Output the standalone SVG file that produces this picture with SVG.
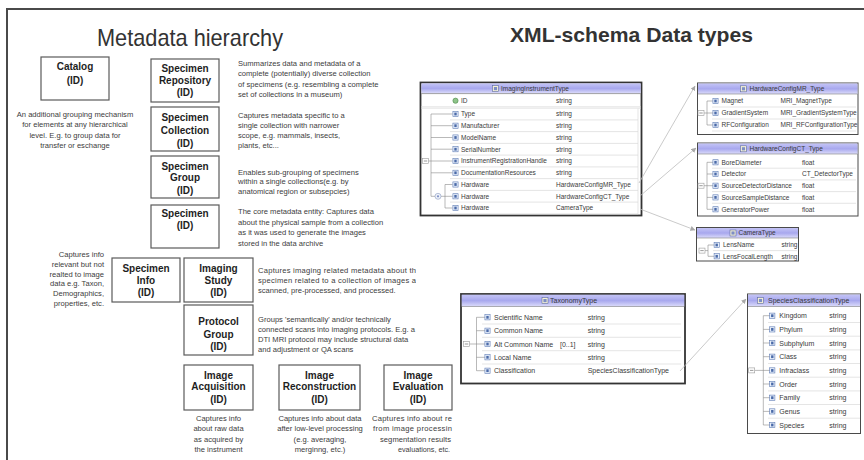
<svg xmlns="http://www.w3.org/2000/svg" xmlns:xlink="http://www.w3.org/1999/xlink" width="864" height="460" viewBox="0 0 864 460">
  <style>
    .frame{fill:none;stroke:#4a4a4a;stroke-width:2}
    .title{font-family:"Liberation Sans",Arial,sans-serif;fill:#333}
    .box{fill:#fff;stroke:#5a5a5a;stroke-width:1.2}
    .lbl{font-family:"Liberation Sans",Arial,sans-serif;font-weight:bold;font-size:10px;fill:#1e1e1e;text-anchor:middle}
    .d{font-family:"Liberation Sans",Arial,sans-serif;font-size:7.6px;fill:#3c3c3c}
    .dc{text-anchor:middle}
    .de{text-anchor:end}
    .tbl{fill:#fff;stroke:#4a4a4a;stroke-width:1}
    .tblb{fill:#fff;stroke:#333;stroke-width:1.8}
    .hdr{fill:url(#hd)}
    .s{font-family:"Liberation Sans",Arial,sans-serif;font-size:6.5px;fill:#3a3a3a}
    .s7{font-family:"Liberation Sans",Arial,sans-serif;font-size:7px;fill:#3a3a3a}
    .tr{fill:none;stroke:#8a8a8a;stroke-width:0.6}
    .sep{fill:none;stroke:#dadada;stroke-width:0.7}
    .conn{fill:none;stroke:#bdbdbd;stroke-width:0.8}
  </style>
  <defs>
    <linearGradient id="hd" x1="0" y1="0" x2="0" y2="1">
      <stop offset="0" stop-color="#c4c4f6"/>
      <stop offset="0.5" stop-color="#a8a8ee"/>
      <stop offset="1" stop-color="#dcdcfa"/>
    </linearGradient>
    <!-- element icon -->
    <g id="el">
      <rect x="-2.6" y="-2.6" width="5.2" height="5.2" fill="#e6eefa" stroke="#5f7cb4" stroke-width="0.6"/>
      <rect x="-1.2" y="-1.4" width="2.4" height="2.8" fill="#4a6aa8"/>
    </g>
    <!-- collapse (minus) toggle -->
    <g id="mn">
      <rect x="-3" y="-2.5" width="6" height="5" fill="#fff" stroke="#9a9a9a" stroke-width="0.6"/>
      <path d="M-1.7 0h3.4" stroke="#555" stroke-width="0.6"/>
    </g>
    <!-- complex type icon -->
    <g id="ti">
      <rect x="-3" y="-3" width="6" height="6" fill="#f6f2d6" stroke="#5c6aa0" stroke-width="0.6"/>
      <rect x="-1.6" y="-1.6" width="3.2" height="3.2" fill="#7d8ec4"/>
    </g>
    <marker id="ah" viewBox="0 0 6 6" refX="5.5" refY="3" markerWidth="5" markerHeight="5" orient="auto" markerUnits="userSpaceOnUse">
      <path d="M0 0L6 3L0 6z" fill="#a8a8a8"/>
    </marker>
    <clipPath id="clipA"><rect x="0" y="260" width="416" height="40"/></clipPath>
    <clipPath id="clipB"><rect x="0" y="360" width="453" height="100"/></clipPath>
  </defs>

  <rect width="864" height="460" fill="#fff"/>
  <!-- slide frame -->
  <path class="frame" d="M7 460V9H864"/>

  <text class="title" x="97" y="46" font-size="24" textLength="186" lengthAdjust="spacingAndGlyphs">Metadata hierarchy</text>
  <text class="title" x="510" y="42" font-size="21" font-weight="bold" textLength="243" lengthAdjust="spacingAndGlyphs">XML-schema Data types</text>

  <!-- ===== Metadata hierarchy ===== -->
  <g id="catalog">
    <rect class="box" x="41" y="57" width="68" height="43"/>
    <text class="lbl" x="75" y="70">Catalog</text>
    <text class="lbl" x="75" y="83.5">(ID)</text>
    <text class="d dc" x="75" y="117">An additional grouping mechanism</text>
    <text class="d dc" x="75" y="127.4">for elements at any hierarchical</text>
    <text class="d dc" x="75" y="137.8">level. E.g. to group data for</text>
    <text class="d dc" x="75" y="148">transfer or eschange</text>
  </g>

  <g id="specimen-repository">
    <rect class="box" x="151" y="59" width="68" height="43"/>
    <text class="lbl" x="185" y="71.7">Specimen</text>
    <text class="lbl" x="185" y="84">Repository</text>
    <text class="lbl" x="185" y="96">(ID)</text>
    <text class="d" x="238" y="66">Summarizes data and metadata of a</text>
    <text class="d" x="238" y="76.3">complete  (potentially) diverse collection</text>
    <text class="d" x="238" y="86.6">of specimens (e.g.  resembling a complete</text>
    <text class="d" x="238" y="96.9">set of collections in  a  museum)</text>
  </g>

  <g id="specimen-collection">
    <rect class="box" x="151" y="107" width="68" height="44"/>
    <text class="lbl" x="185" y="120.7">Specimen</text>
    <text class="lbl" x="185" y="133.5">Collection</text>
    <text class="lbl" x="185" y="146.5">(ID)</text>
    <text class="d" x="238" y="117.7">Captures metadata  specific  to a</text>
    <text class="d" x="238" y="127.7">single collection with narrower</text>
    <text class="d" x="238" y="137.7">scope, e.g. mammals, insects,</text>
    <text class="d" x="238" y="147.7">plants, etc...</text>
  </g>

  <g id="specimen-group">
    <rect class="box" x="151" y="156" width="68" height="42"/>
    <text class="lbl" x="185" y="169.5">Specimen</text>
    <text class="lbl" x="185" y="181.2">Group</text>
    <text class="lbl" x="185" y="193.5">(ID)</text>
    <text class="d" x="238" y="174.5">Enables sub-grouping of specimens</text>
    <text class="d" x="238" y="184.4">within a single collections(e.g. by</text>
    <text class="d" x="238" y="194">anatomical region or subsepcies)</text>
  </g>

  <g id="specimen">
    <rect class="box" x="151" y="205" width="68" height="43"/>
    <text class="lbl" x="185" y="216.5">Specimen</text>
    <text class="lbl" x="185" y="228.5">(ID)</text>
    <text class="d" x="238" y="214.4">The core metadata entity:  Captures data</text>
    <text class="d" x="238" y="224.8">about the  physical sample from a collection</text>
    <text class="d" x="238" y="235.2">as it was used to generate  the  images</text>
    <text class="d" x="238" y="245.6">stored in the data archive</text>
  </g>

  <g id="specimen-info">
    <rect class="box" x="112" y="258" width="68" height="44"/>
    <text class="lbl" x="146" y="271.5">Specimen</text>
    <text class="lbl" x="146" y="283.5">Info</text>
    <text class="lbl" x="146" y="296">(ID)</text>
    <text class="d de" x="104" y="256.7">Captures  info</text>
    <text class="d de" x="104" y="266.6">relevant but not</text>
    <text class="d de" x="104" y="276.5">realted to image</text>
    <text class="d de" x="104" y="286.4">data  e.g.  Taxon,</text>
    <text class="d de" x="104" y="296.3">Demographics,</text>
    <text class="d de" x="104" y="306.2">properties, etc.</text>
  </g>

  <g id="imaging-study">
    <rect class="box" x="184" y="258" width="69" height="44"/>
    <text class="lbl" x="218.5" y="271.5">Imaging</text>
    <text class="lbl" x="218.5" y="283.5">Study</text>
    <text class="lbl" x="218.5" y="296">(ID)</text>
    <g clip-path="url(#clipA)">
      <text class="d" x="258" y="273.4" textLength="158" lengthAdjust="spacing">Captures imaging related metadata about th</text>
      <text class="d" x="258" y="283.4" textLength="158" lengthAdjust="spacing">specimen related to a collection of images a</text>
      <text class="d" x="258" y="293.4">scanned, pre-processed, and processed.</text>
    </g>
  </g>

  <g id="protocol-group">
    <rect class="box" x="184" y="305" width="69" height="50"/>
    <text class="lbl" x="218.5" y="324.5">Protocol</text>
    <text class="lbl" x="218.5" y="337.5">Group</text>
    <text class="lbl" x="218.5" y="350">(ID)</text>
    <text class="d" x="258" y="321.7">Groups 'semantically' and/or technically</text>
    <text class="d" x="258" y="331.7">connected  scans into imaging protocols. E.g. a</text>
    <text class="d" x="258" y="341.7">DTI MRI protocol may include structural data</text>
    <text class="d" x="258" y="351.7">and adjustment or QA scans</text>
  </g>

  <g id="image-acquisition">
    <rect class="box" x="184" y="365" width="69" height="45"/>
    <text class="lbl" x="218.5" y="378.5">Image</text>
    <text class="lbl" x="218.5" y="390.2">Acquisition</text>
    <text class="lbl" x="218.5" y="402.5">(ID)</text>
    <text class="d dc" x="218.5" y="421">Captures info</text>
    <text class="d dc" x="218.5" y="431.3">about raw data</text>
    <text class="d dc" x="218.5" y="441.6">as acquired by</text>
    <text class="d dc" x="218.5" y="451.9">the  instrument</text>
  </g>

  <g id="image-reconstruction">
    <rect class="box" x="279" y="365" width="81" height="45"/>
    <text class="lbl" x="319.5" y="378.5">Image</text>
    <text class="lbl" x="319.5" y="390.2">Reconstruction</text>
    <text class="lbl" x="319.5" y="402.5">(ID)</text>
    <text class="d dc" x="320" y="421">Captures info about data</text>
    <text class="d dc" x="320" y="431.3">after low-level processing</text>
    <text class="d dc" x="320" y="441.6">(e.g.  averaging,</text>
    <text class="d dc" x="320" y="451.9">merginng, etc.)</text>
  </g>

  <g id="image-evaluation" clip-path="url(#clipB)">
    <rect class="box" x="384" y="365" width="68" height="45"/>
    <text class="lbl" x="418" y="378.5">Image</text>
    <text class="lbl" x="418" y="390.2">Evaluation</text>
    <text class="lbl" x="418" y="402.5">(ID)</text>
    <text class="d" x="372" y="421" textLength="80" lengthAdjust="spacing">Captures info about re</text>
    <text class="d" x="373" y="431.3" textLength="79" lengthAdjust="spacing">from  image processin</text>
    <text class="d" x="380" y="441.6" textLength="71" lengthAdjust="spacing">segmentation  results</text>
    <text class="d" x="398" y="451.9" textLength="52" lengthAdjust="spacingAndGlyphs">evaluations, etc.</text>
  </g>

  <!-- ===== XML schema types ===== -->
  <g id="imaging-instrument-type">
    <rect class="tblb" x="420.5" y="82.5" width="221" height="133"/>
    <rect class="hdr" x="421.4" y="83.4" width="219.2" height="10"/>
    <use href="#ti" x="495.5" y="88.6"/>
    <text class="s" x="501" y="91">ImagingInstrumentType</text>
    <line x1="421.4" y1="93.6" x2="640.6" y2="93.6" stroke="#666" stroke-width="0.6"/>
    <circle cx="455.5" cy="100.7" r="2.6" fill="#8fc48a" stroke="#4d8a4a" stroke-width="0.6"/>
    <text class="s" x="461" y="103">ID</text>
    <text class="s" x="556" y="103">string</text>
    <path class="sep" d="M421 106.8H641M421 108.2H641"/>
    <!-- row cells -->
    <path class="sep" d="M450 119.9H638M450 131.6H638M450 143.4H638M450 155.1H638M450 166.9H638M450 178.6H638M450 190.4H638M450 202.1H638M450 213.9H638M638 108.5V213.9"/>
    <!-- tree -->
    <path class="tr" d="M431 114V196.3M431 114H452.5M431 125.7H452.5M431 137.5H452.5M431 149.2H452.5M428.5 161H452.5M431 172.8H452.5M431 196.3H435M441 196.3H445M445 184.5V208M445 184.5H452.5M445 196.3H452.5M445 208H452.5"/>
    <use href="#mn" x="425.5" y="161"/>
    <circle cx="438" cy="196.3" r="3" fill="#eef2fa" stroke="#8a9ac0" stroke-width="0.6"/>
    <circle cx="438" cy="196.3" r="1.1" fill="#7d8ec4"/>
    <use href="#el" x="455.5" y="114"/>
    <use href="#el" x="455.5" y="125.7"/>
    <use href="#el" x="455.5" y="137.5"/>
    <use href="#el" x="455.5" y="149.2"/>
    <use href="#el" x="455.5" y="161"/>
    <use href="#el" x="455.5" y="172.8"/>
    <use href="#el" x="455.5" y="184.5"/>
    <use href="#el" x="455.5" y="196.3"/>
    <use href="#el" x="455.5" y="208"/>
    <text class="s" x="461" y="116.3">Type</text>
    <text class="s" x="556" y="116.3">string</text>
    <text class="s" x="461" y="128">Manufacturer</text>
    <text class="s" x="556" y="128">string</text>
    <text class="s" x="461" y="139.8">ModelName</text>
    <text class="s" x="556" y="139.8">string</text>
    <text class="s" x="461" y="151.5">SerialNumber</text>
    <text class="s" x="556" y="151.5">string</text>
    <text class="s" x="461" y="163.3">InstrumentRegistrationHandle</text>
    <text class="s" x="556" y="163.3">string</text>
    <text class="s" x="461" y="175.1">DocumentationResources</text>
    <text class="s" x="556" y="175.1">string</text>
    <text class="s" x="461" y="186.8">Hardware</text>
    <text class="s" x="556" y="186.8">HardwareConfigMR_Type</text>
    <text class="s" x="461" y="198.6">Hardware</text>
    <text class="s" x="556" y="198.6">HardwareConfigCT_Type</text>
    <text class="s" x="461" y="210.3">Hardware</text>
    <text class="s" x="556" y="210.3">CameraType</text>
  </g>

  <g id="hardware-config-mr-type">
    <rect class="tbl" x="697.5" y="83" width="160.5" height="51.5"/>
    <rect class="hdr" x="698" y="83.5" width="159.5" height="10.5"/>
    <line x1="698" y1="94" x2="857.5" y2="94" stroke="#666" stroke-width="0.5"/>
    <use href="#ti" x="743.5" y="88.8"/>
    <text class="s" x="749.5" y="91.2">HardwareConfigMR_Type</text>
    <path class="sep" d="M712 107H856M712 119H856M712 131H856"/>
    <path class="tr" d="M707 101V125M707 101H713M704 113H713M707 125H713"/>
    <use href="#mn" x="701" y="113"/>
    <use href="#el" x="715.5" y="101"/>
    <use href="#el" x="715.5" y="113"/>
    <use href="#el" x="715.5" y="125"/>
    <text class="s" x="721.5" y="103.3">Magnet</text>
    <text class="s" x="780.5" y="103.3">MRI_MagnetType</text>
    <text class="s" x="721.5" y="115.3">GradientSystem</text>
    <text class="s" x="780.5" y="115.3">MRI_GradientSystemType</text>
    <text class="s" x="721.5" y="127.3">RFConfiguration</text>
    <text class="s" x="780.5" y="127.3">MRI_RFConfigurationType</text>
  </g>

  <g id="hardware-config-ct-type">
    <rect class="tbl" x="697.5" y="143" width="160.5" height="73"/>
    <rect class="hdr" x="698" y="143.5" width="159.5" height="10.5"/>
    <line x1="698" y1="154" x2="857.5" y2="154" stroke="#666" stroke-width="0.5"/>
    <use href="#ti" x="743.5" y="148.8"/>
    <text class="s" x="749.5" y="151.2">HardwareConfigCT_Type</text>
    <path class="sep" d="M712 168.2H856M712 179.9H856M712 191.6H856M712 203.3H856"/>
    <path class="tr" d="M707 162.3V209.3M707 162.3H713M707 174H713M704 185.7H713M707 197.4H713M707 209.3H713"/>
    <use href="#mn" x="701" y="185.7"/>
    <use href="#el" x="715.5" y="162.3"/>
    <use href="#el" x="715.5" y="174"/>
    <use href="#el" x="715.5" y="185.7"/>
    <use href="#el" x="715.5" y="197.4"/>
    <use href="#el" x="715.5" y="209.3"/>
    <text class="s" x="721.5" y="164.6">BoreDiameter</text>
    <text class="s" x="802" y="164.6">float</text>
    <text class="s" x="721.5" y="176.3">Detector</text>
    <text class="s" x="802" y="176.3">CT_DetectorType</text>
    <text class="s" x="721.5" y="188">SourceDetectorDistance</text>
    <text class="s" x="802" y="188">float</text>
    <text class="s" x="721.5" y="199.7">SourceSampleDistance</text>
    <text class="s" x="802" y="199.7">float</text>
    <text class="s" x="721.5" y="211.6">GeneratorPower</text>
    <text class="s" x="802" y="211.6">float</text>
  </g>

  <g id="camera-type">
    <rect class="tbl" x="696.5" y="227.5" width="102" height="33.5"/>
    <rect class="hdr" x="697" y="228" width="101" height="10"/>
    <line x1="697" y1="238" x2="798" y2="238" stroke="#666" stroke-width="0.5"/>
    <use href="#ti" x="733" y="233"/>
    <text class="s" x="738.5" y="235.4">CameraType</text>
    <path class="sep" d="M713 250.6H797"/>
    <path class="tr" d="M708 245V256.3M708 245H714M705 250.6H708M708 256.3H714"/>
    <use href="#mn" x="702" y="250.6"/>
    <use href="#el" x="716.7" y="245"/>
    <use href="#el" x="716.7" y="256.3"/>
    <text class="s" x="723" y="247.3">LensName</text>
    <text class="s" x="781.5" y="247.3">string</text>
    <text class="s" x="723" y="258.6">LensFocalLength</text>
    <text class="s" x="781.5" y="258.6">string</text>
  </g>

  <g id="taxonomy-type">
    <rect class="tblb" x="461" y="294" width="224" height="89.5" stroke-width="1.4"/>
    <rect class="hdr" x="461.7" y="294.7" width="222.6" height="11.8"/>
    <line x1="461.7" y1="306.5" x2="684.3" y2="306.5" stroke="#666" stroke-width="0.5"/>
    <use href="#ti" x="545" y="300.6"/>
    <text class="s7" x="550" y="303.2">TaxonomyType</text>
    <path class="sep" d="M482 324H681M482 337.3H681M482 350.7H681M482 364H681"/>
    <path class="tr" d="M476.5 317.3V370.7M476.5 317.3H485M476.5 330.7H485M469.5 344H485M476.5 357.3H485M476.5 370.7H485"/>
    <use href="#mn" x="466.5" y="344"/>
    <use href="#el" x="487.5" y="317.3"/>
    <use href="#el" x="487.5" y="330.7"/>
    <use href="#el" x="487.5" y="344"/>
    <use href="#el" x="487.5" y="357.3"/>
    <use href="#el" x="487.5" y="370.7"/>
    <text class="s7" x="494" y="319.8">Scientific Name</text>
    <text class="s7" x="587.7" y="319.8">string</text>
    <text class="s7" x="494" y="333.2">Common Name</text>
    <text class="s7" x="587.7" y="333.2">string</text>
    <text class="s7" x="494" y="346.5">Alt Common Name</text>
    <text class="s7" x="560" y="346.5">[0..1]</text>
    <text class="s7" x="587.7" y="346.5">string</text>
    <text class="s7" x="494" y="359.8">Local Name</text>
    <text class="s7" x="587.7" y="359.8">string</text>
    <text class="s7" x="494" y="373.2">Classification</text>
    <text class="s7" x="587.7" y="373.2">SpeciesClassificationType</text>
  </g>

  <g id="species-classification-type">
    <rect class="tbl" x="747.5" y="294" width="113" height="139.5"/>
    <rect class="hdr" x="748" y="294.5" width="112" height="12"/>
    <line x1="748" y1="306.5" x2="860" y2="306.5" stroke="#666" stroke-width="0.5"/>
    <use href="#ti" x="760.5" y="300.5"/>
    <text class="s7" x="768" y="303.1">SpeciesClassificationType</text>
    <path class="sep" d="M768 322.5H860M768 336.2H860M768 349.9H860M768 363.5H860M768 377.2H860M768 390.9H860M768 404.5H860M768 418.2H860"/>
    <path class="tr" d="M763.3 315.7V425M763.3 315.7H770M763.3 329.4H770M763.3 343H770M763.3 356.7H770M754.7 370.4H770M763.3 384H770M763.3 397.7H770M763.3 411.4H770M763.3 425H770"/>
    <use href="#mn" x="751.7" y="370.4"/>
    <use href="#el" x="772.3" y="315.7"/>
    <use href="#el" x="772.3" y="329.4"/>
    <use href="#el" x="772.3" y="343"/>
    <use href="#el" x="772.3" y="356.7"/>
    <use href="#el" x="772.3" y="370.4"/>
    <use href="#el" x="772.3" y="384"/>
    <use href="#el" x="772.3" y="397.7"/>
    <use href="#el" x="772.3" y="411.4"/>
    <use href="#el" x="772.3" y="425"/>
    <text class="s7" x="779.3" y="318.2">Kingdom</text>
    <text class="s7" x="829.3" y="318.2">string</text>
    <text class="s7" x="779.3" y="331.9">Phylum</text>
    <text class="s7" x="829.3" y="331.9">string</text>
    <text class="s7" x="779.3" y="345.5">Subphylum</text>
    <text class="s7" x="829.3" y="345.5">string</text>
    <text class="s7" x="779.3" y="359.2">Class</text>
    <text class="s7" x="829.3" y="359.2">string</text>
    <text class="s7" x="779.3" y="372.9">Infraclass</text>
    <text class="s7" x="829.3" y="372.9">string</text>
    <text class="s7" x="779.3" y="386.5">Order</text>
    <text class="s7" x="829.3" y="386.5">string</text>
    <text class="s7" x="779.3" y="400.2">Family</text>
    <text class="s7" x="829.3" y="400.2">string</text>
    <text class="s7" x="779.3" y="413.9">Genus</text>
    <text class="s7" x="829.3" y="413.9">string</text>
    <text class="s7" x="779.3" y="427.5">Species</text>
    <text class="s7" x="829.3" y="427.5">string</text>
  </g>

  <!-- type references -->
  <g id="connectors">
    <path class="conn" d="M639 183L695 86" marker-end="url(#ah)"/>
    <path class="conn" d="M640 196L696 148" marker-end="url(#ah)"/>
    <path class="conn" d="M640 209L695 230" marker-end="url(#ah)"/>
    <path class="conn" d="M680 371L746 299" marker-end="url(#ah)"/>
  </g>
</svg>
